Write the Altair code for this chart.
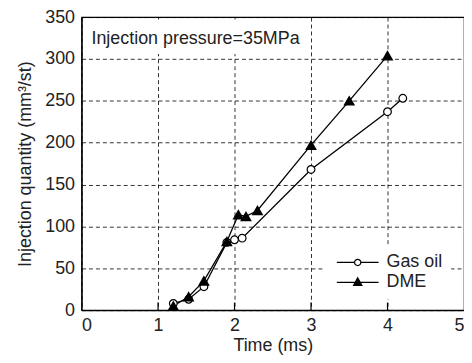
import altair as alt
import pandas as pd

# ---- data ----
gas_time = [1.2, 1.4, 1.6, 1.9, 2.0, 2.1, 3.0, 4.0, 4.2]
gas_qty = [8, 13, 28, 81, 84, 86, 168, 237, 253]
dme_time = [1.2, 1.4, 1.6, 1.9, 2.05, 2.15, 2.3, 3.0, 3.5, 4.0]
dme_qty = [5, 16, 35, 82, 114, 112, 119, 197, 250, 304]
series_names = ["Gas oil", "DME"]
x_ticks = [0, 1, 2, 3, 4, 5]
y_ticks = [0, 50, 100, 150, 200, 250, 300, 350]
inner_ticks = [1, 2, 3, 4]
annotation = "Injection pressure=35MPa"

rows = []
for t, q in zip(gas_time, gas_qty):
    rows.append({"time": t, "qty": q, "fuel": "Gas oil"})
for t, q in zip(dme_time, dme_qty):
    rows.append({"time": t, "qty": q, "fuel": "DME"})
df = pd.DataFrame(rows)

FONT = "Liberation Sans"
TXT = "#222"

xs = alt.Scale(domain=[0, 5], nice=False)
ys = alt.Scale(domain=[0, 350], nice=False)

x_enc = alt.X("time:Q", scale=xs, title="Time (ms)",
              axis=alt.Axis(values=x_ticks, format="d", grid=True, tickSize=0,
                            labelPadding=6, titlePadding=3, labelFontSize=18))
y_enc = alt.Y("qty:Q", scale=ys, title="Injection quantity (mm³/st)",
              axis=alt.Axis(values=y_ticks, format="d", grid=True, tickSize=0,
                            labelPadding=7, titlePadding=10, labelFontSize=18))

lines = alt.Chart(df).mark_line(color="black", strokeWidth=1.3).encode(
    x=x_enc, y=y_enc, detail="fuel:N", order="time:Q"
)

# inward ticks on the bottom axis
tick_df = pd.DataFrame({"x": inner_ticks, "y0": [0] * len(inner_ticks), "y1": [9] * len(inner_ticks)})
ticks = alt.Chart(tick_df).mark_rule(color="black", strokeWidth=1.2).encode(
    x=alt.X("x:Q", scale=xs), y=alt.Y("y0:Q", scale=ys), y2="y1:Q"
)

points = alt.Chart(df).mark_point(stroke="black", strokeWidth=1.2, opacity=1, filled=False).encode(
    x="time:Q", y="qty:Q",
    shape=alt.Shape("fuel:N", scale=alt.Scale(domain=series_names, range=["circle", "triangle-up"]), legend=None),
    fill=alt.Fill("fuel:N", scale=alt.Scale(domain=series_names, range=["white", "black"]), legend=None),
    size=alt.Size("fuel:N", scale=alt.Scale(domain=series_names, range=[60, 95]), legend=None),
)

circle_path = "M-3,0H-0.45M0.45,0H3M-0.45,0A0.45,0.45,0,1,0,0.45,0A0.45,0.45,0,1,0,-0.45,0Z"
tri_path = "M-3,0H3M0,-0.65L0.6,0.45L-0.6,0.45Z"

leg = dict(orient="none", legendX=243, legendY=230,
           symbolSize=196, symbolOpacity=1, symbolOffset=18,
           symbolStrokeColor="black", symbolStrokeWidth=1.2,
           labelOffset=20, labelFontSize=18, labelFont=FONT,
           labelColor=TXT, rowPadding=2, fillColor="white", padding=8)

legend_layer = alt.Chart(df).mark_point(opacity=0, strokeWidth=1.2, filled=False).encode(
    x="time:Q", y="qty:Q",
    shape=alt.Shape("fuel:N", scale=alt.Scale(domain=series_names, range=[circle_path, tri_path]),
                    title=None, legend=alt.Legend(**leg)),
    fill=alt.Fill("fuel:N", scale=alt.Scale(domain=series_names, range=["white", "black"]),
                  title=None, legend=alt.Legend(**leg)),
    stroke=alt.Stroke("fuel:N", scale=alt.Scale(domain=series_names, range=["black", "black"]),
                      title=None, legend=alt.Legend(**leg)),
)

# white box behind annotation
box_df = pd.DataFrame({"x": [0.02], "x2": [2.95], "y": [306], "y2": [347]})
box = alt.Chart(box_df).mark_rect(fill="white").encode(
    x=alt.X("x:Q", scale=xs), x2="x2:Q", y=alt.Y("y:Q", scale=ys), y2="y2:Q"
)
text_df = pd.DataFrame({"x": [0.13], "y": [324], "label": [annotation]})
text = alt.Chart(text_df).mark_text(align="left", baseline="middle", font=FONT,
                                    fontSize=18, color=TXT).encode(
    x=alt.X("x:Q", scale=xs), y=alt.Y("y:Q", scale=ys), text="label:N"
)

chart = alt.layer(lines, ticks, box, text, points, legend_layer).resolve_scale(
    shape="independent", fill="independent", size="independent", stroke="independent"
).properties(
    width=385, height=295,
    autosize=alt.AutoSizeParams(type="none"),
    padding={"left": 74, "top": 8, "right": 0, "bottom": 44},
).configure_view(
    stroke="black", strokeWidth=1.2
).configure_axis(
    domainColor="black", domainWidth=1.2,
    gridColor="black", gridDash=[4, 3], gridWidth=0.8, gridOpacity=1,
    labelFont=FONT, labelColor=TXT,
    titleFont=FONT, titleFontSize=18, titleFontWeight="normal", titleColor=TXT,
)

chart.save("out.html", embed_options={"renderer": "svg", "actions": False})
